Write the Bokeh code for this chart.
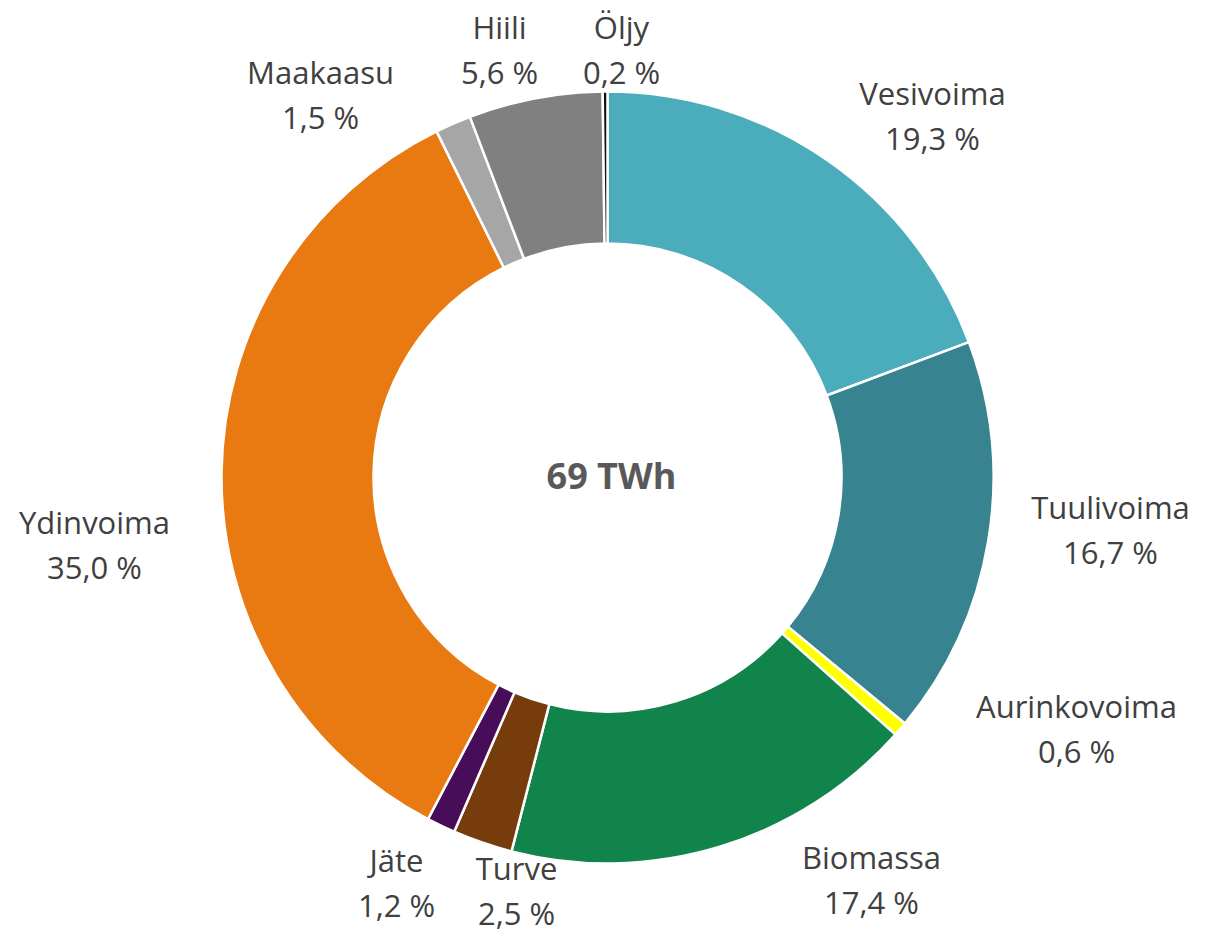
import math
from bokeh.plotting import figure
from bokeh.models import Range1d, ColumnDataSource
from bokeh.core.properties import value
from bokeh.embed import file_html
from bokeh.resources import INLINE

# ---- data ----
categories = ["Vesivoima", "Tuulivoima", "Aurinkovoima", "Biomassa", "Turve",
              "Jäte", "Ydinvoima", "Maakaasu", "Hiili", "Öljy"]
shares = [19.3, 16.7, 0.6, 17.4, 2.5, 1.2, 35.0, 1.5, 5.6, 0.2]
total_label = "69 TWh"

# ---- styles / layout ----
colors = ["#4BACBC", "#37838F", "#FFFF00", "#10844A", "#763C0B",
          "#470D58", "#E97A12", "#A6A6A6", "#808080", "#111111"]
# label block centres relative to the donut centre (pixels, y up)
label_offsets = [(325, 362), (503, -52), (469, -251), (264, -402), (-91, -413),
                 (-211, -405), (-513, -67), (-287, 383), (-108, 428), (14, 428)]

W, H = 1195, 934
CX, CY = 607, 477          # donut centre in picture pixels
R_OUT, R_IN = 386, 234
FONT = "Open Sans"
HALF_LINE = 22.5

total = sum(shares)
starts, ends = [], []
acc = 0.0
for s in shares:
    starts.append(math.pi / 2 - 2 * math.pi * acc / total)
    acc += s
    ends.append(math.pi / 2 - 2 * math.pi * acc / total)

src = ColumnDataSource(dict(start=starts, end=ends, color=colors, cat=categories))

p = figure(width=W, height=H, output_backend="svg", toolbar_location=None,
           x_range=Range1d(-CX, -CX + W), y_range=Range1d(CY - H, CY),
           x_axis_location=None, y_axis_location=None, min_border=0)
p.outline_line_color = None
p.grid.visible = False
p.background_fill_color = "white"

p.annular_wedge(x=0, y=0, inner_radius=R_IN, outer_radius=R_OUT,
                start_angle="start", end_angle="end", direction="clock",
                fill_color="color", line_color="white", line_width=2.5, source=src)

pct = [f"{v:.1f}".replace(".", ",") + " %" for v in shares]
lx = [o[0] for o in label_offsets]
ly1 = [o[1] + HALF_LINE for o in label_offsets]
ly2 = [o[1] - HALF_LINE for o in label_offsets]
p.text(x=lx, y=ly1, text=categories, text_align="center", text_baseline="middle",
       text_font=value(FONT), text_font_size="31px", text_color="#404040")
p.text(x=lx, y=ly2, text=pct, text_align="center", text_baseline="middle",
       text_font=value(FONT), text_font_size="31px", text_color="#404040")

p.text(x=[4], y=[2], text=[total_label], text_align="center", text_baseline="middle",
       text_font=value(FONT), text_font_size="36px", text_font_style="bold",
       text_color="#595959")

open("out.html", "w").write(file_html(p, INLINE))
